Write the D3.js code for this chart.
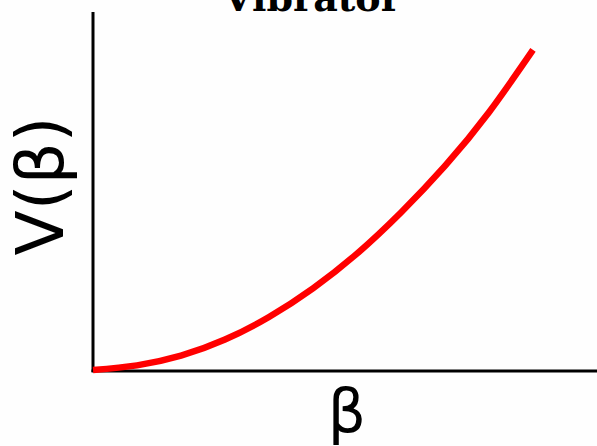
<!DOCTYPE html>
<html>
<head>
<meta charset="utf-8">
<script src="https://cdn.jsdelivr.net/npm/d3@7"></script>
<style>
html,body{margin:0;padding:0;background:#fff;}
svg{display:block;}
</style>
</head>
<body>
<script>
const title = "Vibrator";
const xLabel = "β";
const yLabel = "V(β)";
const beta = [0, 0.1, 0.2, 0.3, 0.4, 0.5, 0.6, 0.7, 0.8, 0.9, 1.0];
const V    = [0, 0.013, 0.04, 0.085, 0.148, 0.228, 0.325, 0.44, 0.57, 0.72, 0.894];

const W = 597, H = 446;
const svg = d3.select("body").append("svg").attr("width", W).attr("height", H);
svg.append("rect").attr("width", W).attr("height", H).attr("fill", "#fefefe");

const x = d3.scaleLinear().domain([0, 1]).range([93, 533]);
const y = d3.scaleLinear().domain([0, 1]).range([370, 12]);

// axes
svg.append("line").attr("x1", x(0)).attr("x2", x(0)).attr("y1", 12).attr("y2", y(0) + 2)
  .attr("stroke", "#000").attr("stroke-width", 3);
svg.append("line").attr("x1", x(0) - 1.5).attr("x2", W).attr("y1", y(0) + 1).attr("y2", y(0) + 1)
  .attr("stroke", "#000").attr("stroke-width", 3);

const line = d3.line().x((d, i) => x(beta[i])).y(d => y(d)).curve(d3.curveNatural);
svg.append("path").datum(V).attr("d", line).attr("fill", "none")
  .attr("stroke", "#ff0000").attr("stroke-width", 6.5);

svg.append("text").attr("x", 312).attr("y", 11).attr("text-anchor", "middle")
  .attr("font-family", "DejaVu Serif").attr("font-weight", "bold").attr("font-size", 38)
  .text(title);

svg.append("text").attr("transform", "translate(63,186) rotate(-90)").attr("text-anchor", "middle")
  .attr("font-family", "DejaVu Sans").attr("font-size", 66).text(yLabel);

svg.append("text").attr("x", 347).attr("y", 432).attr("text-anchor", "middle")
  .attr("font-family", "DejaVu Sans").attr("font-size", 60).text(xLabel);
</script>
</body>
</html>
